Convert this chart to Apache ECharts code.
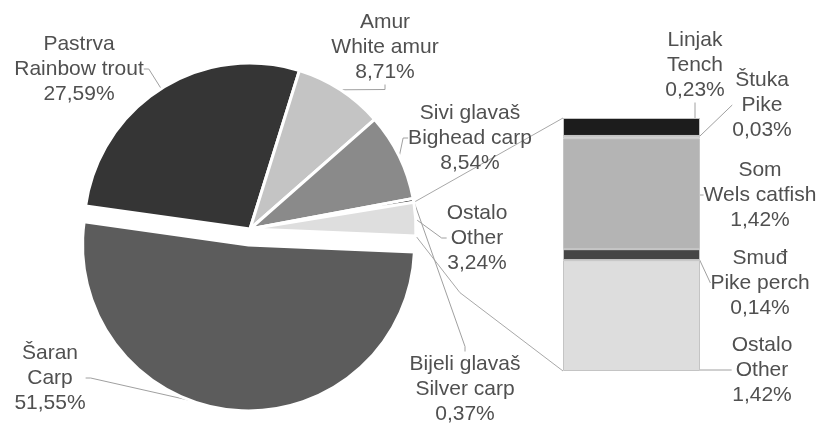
<!DOCTYPE html>
<html><head><meta charset="utf-8">
<script src="https://cdn.jsdelivr.net/npm/echarts@6/dist/echarts.min.js"></script>
<style>html,body{margin:0;padding:0;background:#fff}#c{width:817px;height:423px}</style>
</head><body><div id="c"></div><script>
// ---- data ----
const pieNamesHr = ['Pastrva', 'Amur', 'Sivi glavaš', 'Bijeli glavaš', 'Ostalo', 'Šaran'];
const pieNamesEn = ['Rainbow trout', 'White amur', 'Bighead carp', 'Silver carp', 'Other', 'Carp'];
const pieValues = [27.59, 8.71, 8.54, 0.37, 3.24, 51.55];

const barNamesHr = ['Ostalo', 'Smuđ', 'Som', 'Štuka', 'Linjak'];
const barNamesEn = ['Other', 'Pike perch', 'Wels catfish', 'Pike', 'Tench'];
const barValues = [1.42, 0.14, 1.42, 0.03, 0.23];

// ---- styles / layout ----
const pieColors = ['#353535', '#c4c4c4', '#8a8a8a', '#111111', '#dedede', '#5c5c5c'];
const barColors = ['#dddddd', '#454545', '#b4b4b4', '#ececec', '#1c1c1c'];
const pieLabelPos = [[79, 69], [385, 47], [470, 138], [465, 389], [477, 238], [50, 378]];
const barLabelPos = [[762, 370], [760, 283], [760, 195], [762, 105], [695, 65]];
const explodedName = 'Šaran';
const explodeOffset = 16;
const pieCenter = [250, 229];
const pieStart = 172;
const fmt = v => v.toFixed(2).replace('.', ',') + '%';
const txt = { color: '#505050', fontSize: 21, lineHeight: 25, fontFamily: 'Liberation Sans, Arial, sans-serif' };

const chart = echarts.init(document.getElementById('c'), null, { renderer: 'canvas' });

// direction of the exploded slice (middle angle of that slice)
const total = pieValues.reduce((a, b) => a + b, 0);
const exIdx = pieNamesHr.indexOf(explodedName);
const before = pieValues.slice(0, exIdx).reduce((a, b) => a + b, 0);
const midDeg = pieStart - (before + pieValues[exIdx] / 2) / total * 360;
const exCenter = [pieCenter[0] + explodeOffset * Math.cos(midDeg * Math.PI / 180),
                  pieCenter[1] - explodeOffset * Math.sin(midDeg * Math.PI / 180)];

function pieSeries(center, visibleFn) {
  return {
    type: 'pie',
    center: center,
    radius: 166,
    startAngle: pieStart,
    clockwise: true,
    avoidLabelOverlap: false,
    emphasis: { disabled: true },
    silent: true,
    itemStyle: { borderColor: '#fff', borderWidth: 3 },
    label: Object.assign({
      position: 'outside', alignTo: 'none', overflow: 'none', edgeDistance: 0,
      formatter: p => p.name + '\n' + p.data.en + '\n' + fmt(p.value)
    }, txt),
    labelLine: { length: 5, length2: 5, lineStyle: { color: '#a0a0a0', width: 1 } },
    labelLayout: p => ({ x: pieLabelPos[p.dataIndex][0], y: pieLabelPos[p.dataIndex][1], align: 'center', verticalAlign: 'middle' }),
    data: pieValues.map((v, i) => {
      const vis = visibleFn(i);
      return {
        name: pieNamesHr[i], value: v, en: pieNamesEn[i],
        itemStyle: vis ? { color: pieColors[i] } : { color: 'rgba(0,0,0,0)', borderWidth: 0 },
        label: { show: vis },
        labelLine: { show: vis }
      };
    })
  };
}

const barSeries = barValues.map((v, i) => ({
  type: 'bar', stack: 'o', name: barNamesHr[i], data: [v], barWidth: 137,
  itemStyle: { color: barColors[i], borderColor: '#c4c4c4', borderWidth: 1 },
  label: Object.assign({ show: true, formatter: () => barNamesHr[i] + '\n' + barNamesEn[i] + '\n' + fmt(v), align: 'center', verticalAlign: 'middle' }, txt),
  labelLine: { show: true, lineStyle: { color: '#a0a0a0', width: 1 } },
  labelLayout: { x: barLabelPos[i][0], y: barLabelPos[i][1], align: 'center', verticalAlign: 'middle' },
  emphasis: { disabled: true }
}));

chart.setOption({
  animation: false,
  backgroundColor: '#fff',
  grid: { left: 563, top: 118, width: 137, height: 253 },
  xAxis: { type: 'category', data: ['Ostalo'], show: false },
  yAxis: { type: 'value', min: 0, max: 3.24, show: false },
  series: [
    pieSeries(pieCenter, i => i !== exIdx),
    pieSeries(exCenter, i => i === exIdx)
  ].concat(barSeries)
});

// connector lines from the "Ostalo" slice to the bar
const sl = chart.getModel().getSeriesByIndex(0).getData().getItemLayout(pieNamesHr.indexOf('Ostalo'));
const pTop = [sl.cx + sl.r * Math.cos(sl.startAngle), sl.cy + sl.r * Math.sin(sl.startAngle)];
const pBot = [sl.cx + sl.r * Math.cos(sl.endAngle), sl.cy + sl.r * Math.sin(sl.endAngle)];
const barTop = chart.convertToPixel({ gridIndex: 0 }, [0, barValues.reduce((a, b) => a + b, 0)]);
const barBot = chart.convertToPixel({ gridIndex: 0 }, [0, 0]);
const bx = barTop[0] - 137 / 2;
const bend = [pBot[0] + 0.3 * (bx - pBot[0]), pBot[1] + 0.42 * (barBot[1] - pBot[1])];
chart.setOption({
  graphic: [
    { type: 'polyline', z: 1, shape: { points: [pTop, [bx, barTop[1]]] }, style: { stroke: '#a8a8a8', lineWidth: 1, fill: null } },
    { type: 'polyline', z: 1, shape: { points: [pBot, bend, [bx, barBot[1]]] }, style: { stroke: '#a8a8a8', lineWidth: 1, fill: null } }
  ]
});
</script></body></html>
